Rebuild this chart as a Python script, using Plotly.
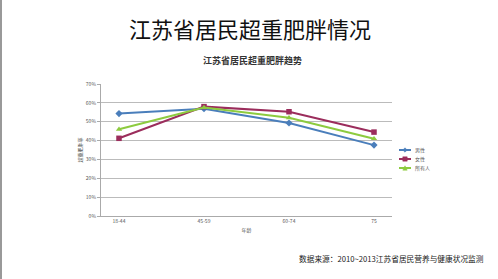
import plotly.graph_objects as go

categories = ["18-44", "45-59", "60-74", "75"]
male = [0.543, 0.569, 0.493, 0.376]
female = [0.412, 0.580, 0.553, 0.445]
everyone = [0.460, 0.575, 0.521, 0.410]
series_names = ["男性", "女性", "所有人"]
y_ticks = [0, 0.1, 0.2, 0.3, 0.4, 0.5, 0.6, 0.7]

colors = ["#4A7EBB", "#9B2D5C", "#8DCB3F"]
symbols = ["diamond", "square", "triangle-up"]
cjk = "Noto Sans CJK SC"

W, H = 498, 279
L, R, T, B = 101, 392, 84, 216


def px(x):
    return (x - L) / (R - L)


def py(y):
    return (B - y) / (B - T)


fig = go.Figure()
for name, vals, c, s in zip(series_names, [male, female, everyone], colors, symbols):
    fig.add_trace(go.Scatter(
        x=categories, y=vals, name=name, mode="lines+markers",
        line=dict(color=c, width=2), marker=dict(symbol=s, size=5.5, color=c),
        showlegend=False, cliponaxis=False,
    ))

# compact legend drawn with shapes
leg_y = [150, 159, 168]
for name, c, s, ly in zip(series_names, colors, symbols, leg_y):
    fig.add_shape(type="line", xref="paper", yref="paper", x0=px(399), x1=px(411),
                  y0=py(ly), y1=py(ly), line=dict(color=c, width=2))
    cx, cy, r = 405, ly, 2.2
    if s == "diamond":
        path = f"M{px(cx-r)},{py(cy)} L{px(cx)},{py(cy-r)} L{px(cx+r)},{py(cy)} L{px(cx)},{py(cy+r)} Z"
    elif s == "square":
        path = f"M{px(cx-r)},{py(cy-r)} L{px(cx+r)},{py(cy-r)} L{px(cx+r)},{py(cy+r)} L{px(cx-r)},{py(cy+r)} Z"
    else:
        path = f"M{px(cx-r)},{py(cy+r)} L{px(cx+r)},{py(cy+r)} L{px(cx)},{py(cy-r)} Z"
    fig.add_shape(type="path", xref="paper", yref="paper", path=path,
                  fillcolor=c, line=dict(color=c, width=0.5))
    fig.add_annotation(x=px(413), y=py(ly), xref="paper", yref="paper", text=name,
                       showarrow=False, xanchor="left", yanchor="middle",
                       font=dict(family=cjk, size=5, color="#555"))

fig.update_layout(
    width=W, height=H,
    margin=dict(l=L, r=W - R, t=T, b=H - B),
    paper_bgcolor="white", plot_bgcolor="white",
    showlegend=False,
    xaxis=dict(type="category", showgrid=False, showline=True, linecolor="#AAAAAA",
               linewidth=1, ticks="", tickfont=dict(family=cjk, size=5, color="#555"),
               title=dict(text="年龄", font=dict(family=cjk, size=5, color="#555"), standoff=5)),
    yaxis=dict(range=[0, 0.7], tickvals=y_ticks, tickformat=".0%", showgrid=True,
               gridcolor="#BBBBBB", gridwidth=1.3, showline=True, linecolor="#AAAAAA",
               ticks="outside", ticklen=3, tickcolor="#AAAAAA", zeroline=False,
               tickfont=dict(family=cjk, size=5, color="#555"),
               title=dict(text="超重肥胖率", font=dict(family=cjk, size=5, color="#555"), standoff=3)),
)

fig.add_annotation(x=px(250), y=py(28), xref="paper", yref="paper",
                   text="江苏省居民超重肥胖情况", showarrow=False,
                   font=dict(family=cjk, size=22, color="#111"), xanchor="center", yanchor="middle")
fig.add_annotation(x=px(252), y=py(61), xref="paper", yref="paper",
                   text="<b>江苏省居民超重肥胖趋势</b>", showarrow=False,
                   font=dict(family=cjk, size=9, color="#333"), xanchor="center", yanchor="middle")
fig.add_annotation(x=px(486), y=py(258), xref="paper", yref="paper",
                   text="数据来源：2010~2013江苏省居民营养与健康状况监测", showarrow=False,
                   font=dict(family=cjk, size=7.7, color="#222"), xanchor="right", yanchor="middle")
fig.add_shape(type="line", xref="paper", yref="paper", x0=px(1), x1=px(1),
              y0=py(0), y1=py(H), line=dict(color="#999999", width=2))

fig.write_html("out.html")
